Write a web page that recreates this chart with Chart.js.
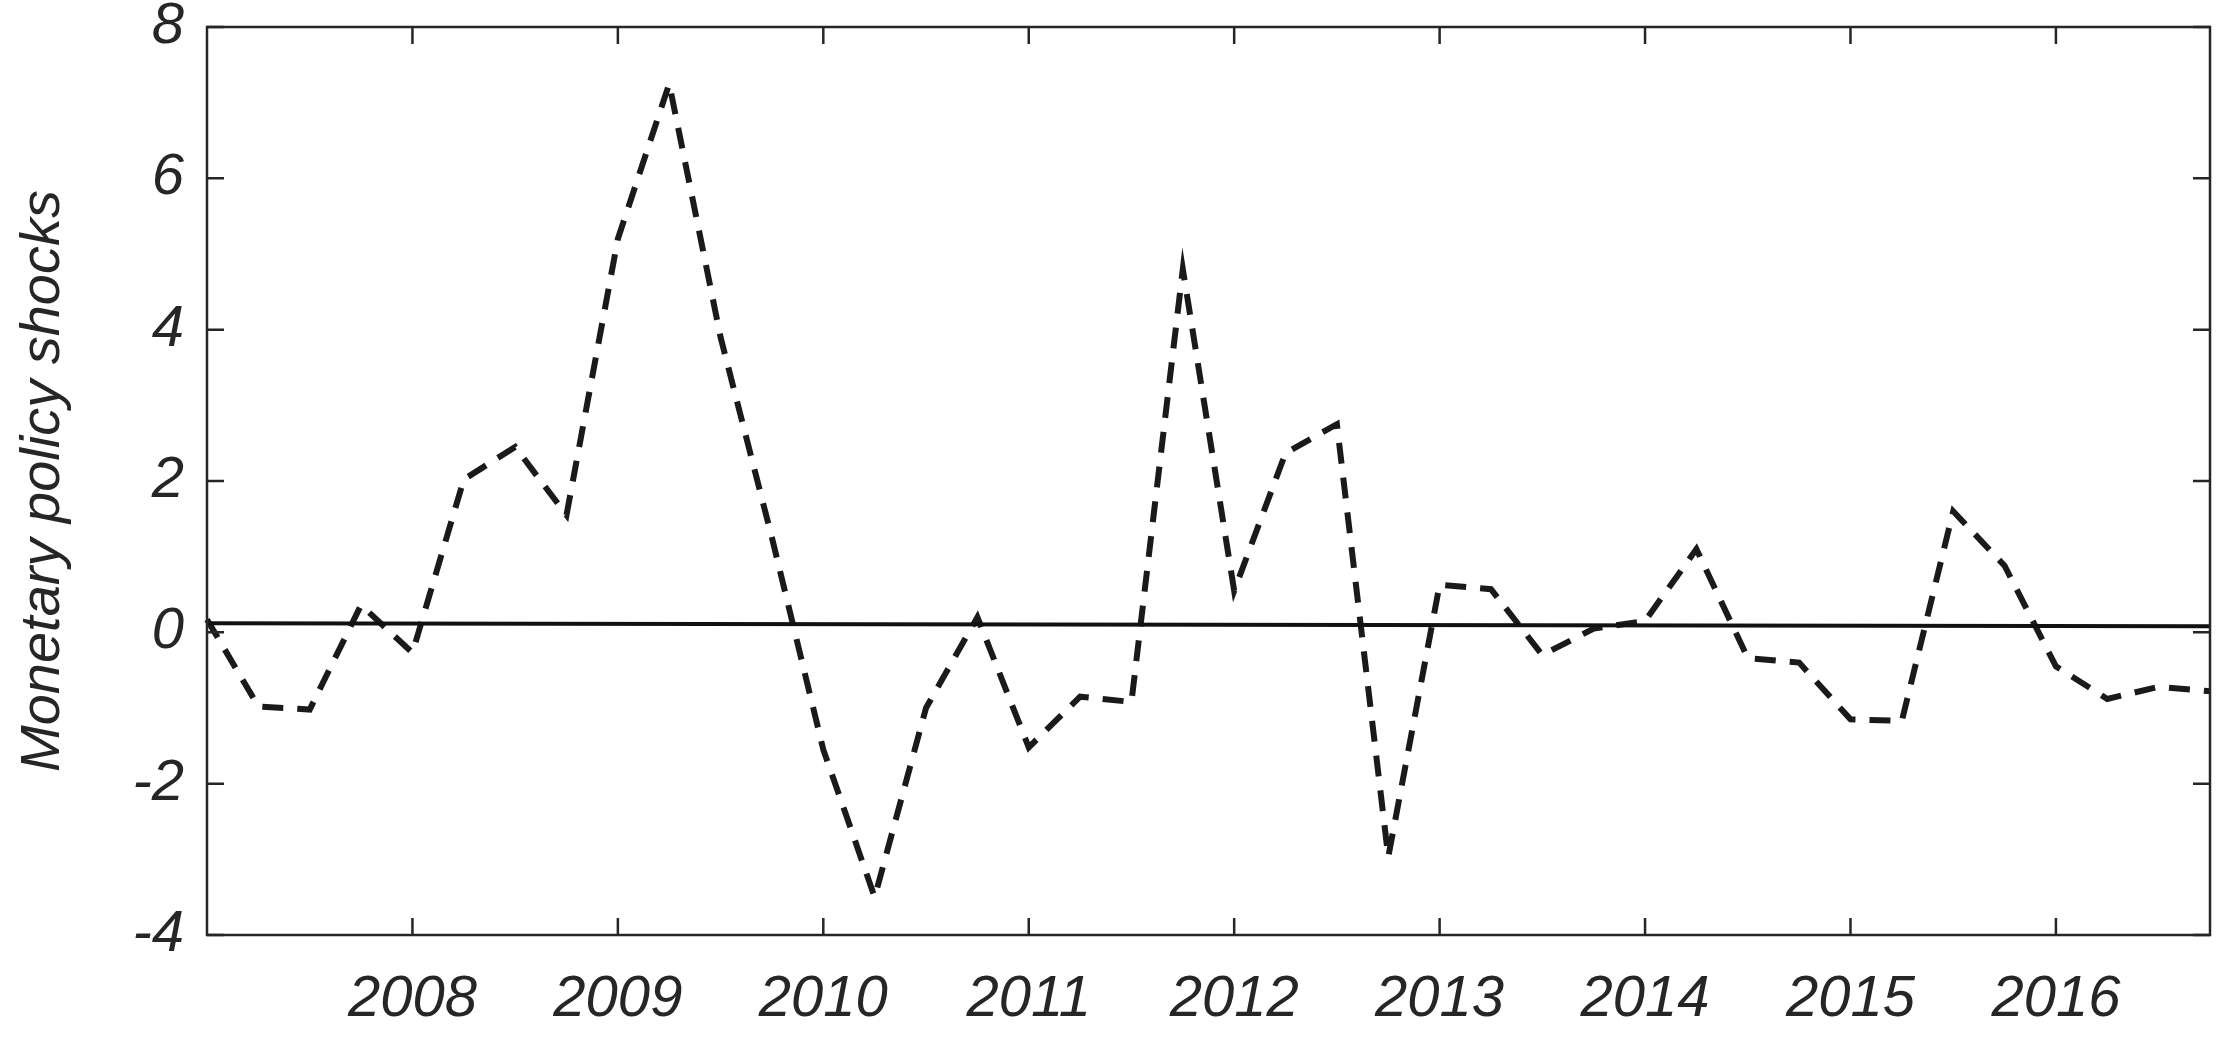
<!DOCTYPE html>
<html lang="en">
<head>
<meta charset="UTF-8">
<title>Monetary policy shocks</title>
<style>
    html, body {
        margin: 0;
        padding: 0;
        background-color: #ffffff;
    }
    .chart-box {
        width: 2228px;
        height: 1037px;
    }
</style>
</head>
<body>
<div class="chart-box"><canvas id="shockChart" width="2228" height="1037"></canvas></div>

<script src="https://cdn.jsdelivr.net/npm/chart.js"></script>
<script>
// quarterly observations
const quarters = [
    '2007Q1', '2007Q2', '2007Q3', '2007Q4',
    '2008Q1', '2008Q2', '2008Q3', '2008Q4',
    '2009Q1', '2009Q2', '2009Q3', '2009Q4',
    '2010Q1', '2010Q2', '2010Q3', '2010Q4',
    '2011Q1', '2011Q2', '2011Q3', '2011Q4',
    '2012Q1', '2012Q2', '2012Q3', '2012Q4',
    '2013Q1', '2013Q2', '2013Q3', '2013Q4',
    '2014Q1', '2014Q2', '2014Q3', '2014Q4',
    '2015Q1', '2015Q2', '2015Q3', '2015Q4',
    '2016Q1', '2016Q2', '2016Q3', '2016Q4'
];
const shocks = [
    0.17, -0.98, -1.02, 0.36,
    -0.27, 2.02, 2.45, 1.55,
    5.2, 7.25, 3.9, 1.25,
    -1.55, -3.5, -1.0, 0.2,
    -1.52, -0.85, -0.92, 4.8,
    0.55, 2.37, 2.75, -2.97,
    0.63, 0.57, -0.3, 0.05,
    0.15, 1.1, -0.34, -0.4,
    -1.15, -1.17, 1.6, 0.88,
    -0.45, -0.88, -0.72, -0.78
];
// the solid line: its two end points
const refLineQuarters = ['2007Q1', '2016Q4'];
const refLineValues = [0.12, 0.08];

const yearTicks = ['2008', '2009', '2010', '2011', '2012', '2013', '2014', '2015', '2016'];
const yMin = -4;
const yMax = 8;
const yStep = 2;

const textColor = '#262626';
const axisColor = '#262626';

// MATLAB-like box with inward ticks on all four sides
const boxTicks = {
    id: 'boxTicks',
    afterDatasetsDraw(chart) {
        const { ctx, chartArea: a, scales } = chart;
        const len = 17;
        ctx.save();
        ctx.strokeStyle = axisColor;
        ctx.lineWidth = 2.5;
        ctx.strokeRect(a.left, a.top, a.right - a.left, a.bottom - a.top);
        ctx.beginPath();
        scales.x.ticks.forEach((t, i) => {
            const px = scales.x.getPixelForTick(i);
            ctx.moveTo(px, a.bottom);
            ctx.lineTo(px, a.bottom - len);
            ctx.moveTo(px, a.top);
            ctx.lineTo(px, a.top + len);
        });
        scales.y.ticks.forEach((t, i) => {
            const py = scales.y.getPixelForTick(i);
            ctx.moveTo(a.left, py);
            ctx.lineTo(a.left + len, py);
            ctx.moveTo(a.right, py);
            ctx.lineTo(a.right - len, py);
        });
        ctx.stroke();
        ctx.restore();
    }
};

const refLine = refLineQuarters.map((q, i) => ({ x: q, y: refLineValues[i] }));

new Chart(document.getElementById('shockChart'), {
    type: 'line',
    data: {
        labels: quarters,
        datasets: [
            {
                label: 'Zero line',
                data: refLine,
                borderColor: '#111111',
                borderWidth: 4,
                pointRadius: 0,
                tension: 0
            },
            {
                label: 'Monetary policy shocks',
                data: shocks,
                borderColor: '#1a1a1a',
                borderWidth: 6,
                borderDash: [21, 14],
                pointRadius: 0,
                tension: 0
            }
        ]
    },
    options: {
        responsive: false,
        animation: false,
        devicePixelRatio: 1,
        layout: {
            padding: { left: 0, right: 18, top: 27, bottom: 0 }
        },
        plugins: {
            legend: { display: false },
            tooltip: { enabled: false }
        },
        scales: {
            x: {
                type: 'category',
                offset: false,
                grid: { display: false, drawTicks: false },
                border: { display: false },
                afterBuildTicks(scale) {
                    scale.ticks = yearTicks.map(y => ({ value: quarters.indexOf(y + 'Q1') }));
                },
                afterFit(scale) {
                    scale.height = 102;
                    scale.paddingLeft = 0;
                    scale.paddingRight = 0;
                },
                ticks: {
                    autoSkip: false,
                    maxRotation: 0,
                    padding: 30,
                    color: textColor,
                    font: { family: 'Liberation Sans, Arial, sans-serif', size: 58, style: 'italic' },
                    callback: (value) => quarters[value].slice(0, 4)
                }
            },
            y: {
                min: yMin,
                max: yMax,
                grid: { display: false, drawTicks: false },
                border: { display: false },
                afterFit(scale) {
                    scale.width = 207;
                    scale.paddingTop = 0;
                    scale.paddingBottom = 0;
                },
                ticks: {
                    stepSize: yStep,
                    padding: 23,
                    color: textColor,
                    font: { family: 'Liberation Sans, Arial, sans-serif', size: 58, style: 'italic' },
                    callback: (value) => String(value)
                },
                title: {
                    display: true,
                    text: 'Monetary policy shocks',
                    color: textColor,
                    padding: { top: 10, bottom: 0 },
                    font: { family: 'Liberation Sans, Arial, sans-serif', size: 56, style: 'italic', weight: 'normal' }
                }
            }
        }
    },
    plugins: [boxTicks]
});
</script>
</body>
</html>
